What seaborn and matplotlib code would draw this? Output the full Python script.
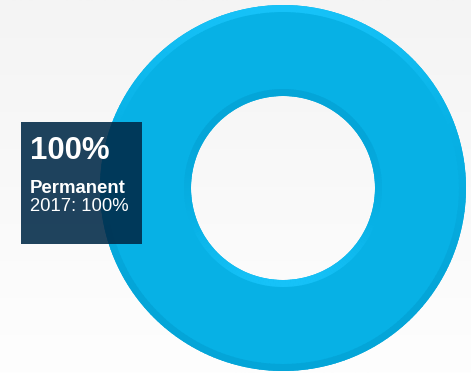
import numpy as np
import matplotlib
matplotlib.use("Agg")
import matplotlib.pyplot as plt
import seaborn as sns
from matplotlib.patches import Wedge, Rectangle
from matplotlib.colors import LinearSegmentedColormap, to_rgb

# ---- data ----
categories = ["Permanent"]
values = [100]
year = "2017"
shares = [100]  # percent shown in tooltip

sns.set_theme(style="white")
plt.rcParams['font.family'] = ['Liberation Sans', 'DejaVu Sans']

W, H = 471, 373
fig = plt.figure(figsize=(W / 100, H / 100), dpi=100)
ax = fig.add_axes([0, 0, 1, 1])
ax.set_xlim(0, W)
ax.set_ylim(0, H)
ax.set_axis_off()

# background gradient (light gray top -> white bottom)
bg = LinearSegmentedColormap.from_list("bg", ["#fefefe", "#f4f4f4"])
grad = np.linspace(0, 1, 256).reshape(-1, 1)
ax.imshow(grad, extent=[0, W, 0, H], origin="lower", cmap=bg, aspect="auto", zorder=0)

main_col = "#07b1e5"
light_col = "#16c2f8"
dark_col = "#04a5d8"
cx, cy = 283, 185
R_out, R_in = 183, 92

palette = sns.color_palette([main_col])
ax.pie(values, labels=None, colors=palette, radius=R_out, center=(cx, cy),
       startangle=90, counterclock=False,
       wedgeprops=dict(width=R_out - R_in, linewidth=0, antialiased=True))
ax.set_xlim(0, W)
ax.set_ylim(0, H)
ax.set_aspect("auto")

# bevel rims (style only)
m, l, d = np.array(to_rgb(main_col)), np.array(to_rgb(light_col)), np.array(to_rgb(dark_col))
off = 0.35
def shade(s):
    t = s - off
    if t > 0:
        return m + (t / (1 - off)) * (l - m)
    return m + min(1.0, (-t) / 0.9) * (d - m)
N = 240
bw = 7
for i in range(N):
    a1 = 360 * i / N
    a2 = 360 * (i + 1) / N + 0.3
    s = np.sin(np.radians((a1 + a2) / 2))
    ax.add_patch(Wedge((cx, cy), R_out, a1, a2, width=bw, color=shade(s), lw=0, zorder=3))
    ax.add_patch(Wedge((cx, cy), R_in + bw, a1, a2, width=bw, color=shade(-s), lw=0, zorder=3))

# tooltip
ax.add_patch(Rectangle((21, 129), 121, 122, facecolor=(0.0, 0.16, 0.28), alpha=0.88,
                       lw=0, zorder=5))
ax.text(30, 214, f"{shares[0]}%", color="white", fontsize=22.4, fontweight="bold",
        va="baseline", ha="left", zorder=6)
ax.text(30, 180, categories[0], color="white", fontsize=13.4, fontweight="bold",
        va="baseline", ha="left", zorder=6)
ax.text(30, 162, f"{year}: {values[0]}%", color="white", fontsize=13.3,
        va="baseline", ha="left", zorder=6)

fig.savefig("out.png", dpi=100)
